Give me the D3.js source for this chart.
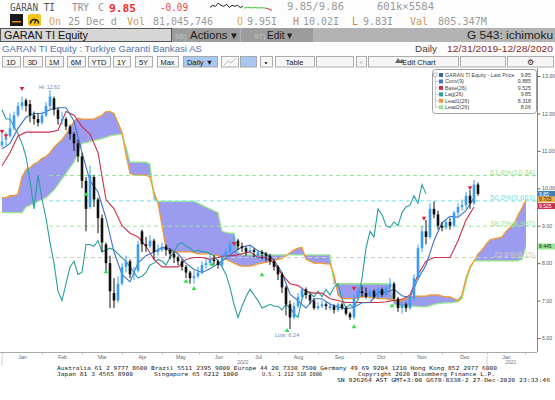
<!DOCTYPE html>
<html><head><meta charset="utf-8">
<script src="https://cdn.jsdelivr.net/npm/d3@7"></script>
<style>
html,body{margin:0;padding:0;background:#fff;overflow:hidden;}
svg{display:block;font-family:"Liberation Sans",Arial,sans-serif;}
</style></head><body>
<svg id="c" width="555" height="400"></svg>
<script>
// ---------------- DATA ----------------
// candles (one bar every 2 trading days, 31-Dec-2019 .. 28-Dec-2020)
const openP = [11.15,11.3,11.4,11.6,11.95,12.2,12.35,12.25,11.95,11.85,
11.75,11.95,12.2,12.4,12.1,11.8,11.85,11.65,11.45,11.2,
10.85,10.2,9.5,10.3,9.7,9.2,8.5,8.0,7.2,7.0,
7.45,7.9,8.05,7.7,7.8,8.85,8.5,8.45,8.6,8.3,
8.35,8.45,8.35,8.25,8.15,8.05,7.9,7.75,7.6,7.65,
7.75,7.95,8.0,8.1,8.05,7.95,8.15,8.3,8.5,8.6,
8.45,8.4,8.3,8.35,8.2,8.3,8.25,8.2,8.05,7.9,
7.7,7.35,6.9,6.55,6.85,7.1,7.3,7.15,7.0,6.8,
6.85,6.9,6.8,6.85,6.75,6.9,6.8,6.65,6.55,7.05,
7.25,7.2,7.1,7.25,7.1,7.3,7.15,7.35,7.45,7.05,
6.8,6.9,6.8,7.05,7.6,8.4,8.85,8.7,9.45,9.3,
9.0,8.95,9.1,9.0,9.35,9.5,9.55,9.8,9.6,10.1];
const highP = [11.45,11.5,12.0,12.05,12.3,12.45,12.4,12.36,12.05,12.0,
12.05,12.3,12.62,12.45,12.15,12.05,11.9,11.7,11.5,11.3,
10.95,10.3,10.6,10.35,9.75,9.3,8.55,8.2,7.6,7.65,
8.0,8.2,8.1,7.9,8.6,8.9,8.7,8.75,8.65,8.5,
8.55,8.5,8.4,8.3,8.2,8.1,7.95,7.8,7.8,7.9,
8.05,8.1,8.25,8.2,8.1,8.25,8.4,8.6,8.75,8.65,
8.55,8.45,8.45,8.4,8.35,8.35,8.3,8.25,8.1,7.95,
7.75,7.4,7.0,6.95,7.2,7.35,7.35,7.2,7.05,6.95,
7.0,6.95,6.95,6.9,6.95,6.95,6.85,6.7,7.15,7.35,
7.4,7.35,7.3,7.3,7.35,7.35,7.4,7.6,7.5,7.1,
6.95,6.95,7.1,7.7,8.5,9.0,9.15,9.6,9.65,9.4,
9.1,9.15,9.2,9.4,9.6,9.7,9.9,9.95,10.22,10.15];
const lowP = [11.1,11.15,11.35,11.55,11.9,12.1,12.05,11.76,11.7,11.65,
11.7,11.9,12.1,11.95,11.7,11.7,11.55,11.3,11.0,10.7,
10.0,8.85,9.45,9.5,8.8,8.3,7.8,6.8,6.8,6.95,
7.4,7.75,7.6,7.55,7.75,8.3,8.3,8.4,8.1,8.2,
8.3,8.2,8.1,8.0,7.95,7.8,7.6,7.45,7.45,7.6,
7.7,7.85,7.95,7.95,7.85,7.9,8.1,8.25,8.45,8.35,
8.3,8.2,8.25,8.15,8.1,8.1,8.05,7.95,7.8,7.55,
7.2,6.6,6.24,6.5,6.8,7.0,7.05,6.9,6.75,6.75,
6.8,6.75,6.75,6.65,6.7,6.75,6.6,6.48,6.5,7.0,
7.1,7.05,7.05,7.05,7.05,7.1,7.1,7.3,7.0,6.7,
6.65,6.7,6.75,7.0,7.55,8.3,8.5,8.65,9.2,8.9,
8.85,8.9,8.9,8.95,9.25,9.4,9.45,9.45,9.55,9.8];
const closeP = [11.25,11.35,11.6,11.95,12.2,12.3,12.2,11.95,11.85,11.75,
11.95,12.2,12.45,12.1,11.85,11.85,11.65,11.45,11.2,10.85,
10.2,9.45,10.35,9.7,9.2,8.55,8.0,7.25,7.0,7.45,
7.9,8.05,7.7,7.75,8.5,8.5,8.45,8.6,8.3,8.35,
8.4,8.35,8.25,8.15,8.05,7.9,7.75,7.6,7.65,7.75,
7.95,8.0,8.1,8.05,7.95,8.15,8.3,8.5,8.55,8.45,
8.4,8.3,8.35,8.3,8.3,8.25,8.2,8.05,7.9,7.7,
7.35,6.9,6.55,6.85,7.1,7.3,7.15,7.0,6.8,6.85,
6.9,6.85,6.85,6.75,6.9,6.8,6.65,6.55,7.05,7.25,
7.2,7.1,7.25,7.1,7.3,7.15,7.35,7.45,7.05,6.8,
6.9,6.8,7.05,7.6,8.4,8.85,8.7,9.45,9.3,9.0,
8.95,9.1,9.0,9.35,9.5,9.55,9.8,9.6,10.1,9.85];
// Conversion line (9) and Base line (26), one value every 2 bars
const convLine = [11.05,11.2,11.6,11.9,12.0,12.0,12.1,12.15,12.15,11.8,
10.95,10.2,9.9,9.2,8.3,7.7,7.5,8.0,8.2,8.3,
8.42,8.38,8.25,8.0,7.83,7.75,7.85,7.98,8.13,8.3,
8.43,8.48,8.33,8.25,8.08,7.75,7.17,7.0,6.8,7.05,
7.05,6.9,6.83,6.78,6.82,6.94,6.95,7.22,7.22,7.3,
7.13,7.08,7.58,7.95,8.6,9.08,9.25,9.23,9.4,9.75];
const baseLine = [10.6,10.95,11.4,11.5,11.5,11.5,11.5,11.55,12.05,11.95,
11.65,11.45,10.95,9.7,9.45,9.0,8.8,8.7,8.45,8.1,
7.9,7.9,7.9,8.1,8.15,8.15,8.1,8.15,8.2,8.2,
8.25,8.3,8.15,8.15,8.0,7.7,7.45,7.4,7.25,7.2,
7.2,7.05,7.0,6.95,6.95,6.95,6.95,6.95,6.97,7.0,
7.03,7.15,7.7,8.05,8.15,8.15,8.15,8.6,9.15,9.5];
// Leading spans (one value per bar, projected 26 days ahead)
const lead1 = [9.75,9.75,9.8,9.8,9.85,10.3,10.5,10.55,10.65,10.7,
10.8,10.85,10.95,11.1,11.2,11.3,11.45,11.6,11.8,11.88,
11.85,11.85,11.85,11.85,11.9,11.95,12.05,12.05,12.0,11.75,
11.5,10.9,10.4,10.35,10.35,10.35,10.35,10.3,9.9,9.6,
9.0,8.4,8.3,8.3,8.3,8.3,8.3,8.3,8.28,8.25,
8.25,8.25,8.25,8.22,8.2,8.15,8.1,8.05,8.0,7.95,
7.92,7.92,7.92,7.95,7.98,8.0,8.02,8.05,8.08,8.1,
8.12,8.2,8.28,8.35,8.4,8.42,8.1,8.05,8.0,8.0,
8.0,7.98,7.98,7.7,7.15,7.05,7.05,7.05,7.05,7.08,
7.1,7.1,7.1,7.08,7.05,7.05,7.05,7.02,7.0,6.98,
7.0,7.05,7.1,7.12,7.12,7.12,7.12,7.15,7.15,7.15,
7.12,7.1,7.1,7.05,7.0,7.15,7.6,7.9,8.05,8.25,
8.35,8.5,8.62,8.65,8.67,8.7,8.85,8.95,9.05,9.28,
9.47,9.7];
const lead2 = [9.35,9.35,9.35,9.35,9.35,9.35,9.5,9.55,9.6,9.65,
9.7,9.75,9.85,9.95,10.1,10.25,10.4,10.55,10.7,10.95,
11.2,11.22,11.25,11.28,11.3,11.33,11.36,11.4,11.42,11.44,
11.45,11.1,10.7,10.7,10.7,10.7,10.7,10.65,9.7,9.65,
9.65,9.65,9.65,9.65,9.65,9.65,9.65,9.65,9.65,9.6,
9.55,9.5,9.45,9.4,9.35,8.85,8.82,8.8,8.8,8.3,
8.22,8.22,8.22,8.22,8.22,8.22,8.22,8.22,8.22,8.22,
8.22,8.22,8.22,8.22,8.22,8.22,8.22,8.22,8.22,8.22,
8.22,8.22,8.22,7.45,7.45,7.45,7.45,7.45,7.45,7.45,
7.45,7.45,7.45,7.45,7.45,7.45,7.45,7.42,6.9,6.88,
6.86,6.85,6.85,6.85,6.84,6.83,6.83,6.86,6.9,6.92,
6.93,6.94,6.94,6.95,6.97,7.05,7.5,7.85,8.06,8.06,
8.06,8.06,8.06,8.06,8.06,8.06,8.06,8.06,8.06,8.06,
8.1,8.445];
const lagShift = 13; // 26 trading days = 13 bars
const monthStarts = [0,10,20,30,40,49.25,59,69,79,89.5,99.75,110,121.25,130.75];
const monthLabels = ["Jan","Feb","Mar","Apr","May","Jun","Jul","Aug","Sep","Oct","Nov","Dec","Jan"];
const yearLabels = ["2020","2021"];
const yearPos = [60.2, 127.2];
const yTicks = [6,7,8,9,10,11,12,13];
const fibLevels = [10.34, 9.663, 8.987, 8.15];
const fibLabels = ["61.8%(10.34)","50.0%(9.663)","38.2%(8.987)","23.6%(8.15)"];
const redMarkIdx = [0,1,5,58,88,105.5,117];
const redMarkPrice = [11.45,11.34,12.6,8.46,7.26,9.13,9.95];
const greenMarkIdx = [21,26,46,48,52.5,65,71.25,88,97.5];
const greenMarkPrice = [9.9,7.84,7.58,7.39,8.03,7.76,6.27,6.37,6.93];
const legendNames = ["GARAN TI Equity - Last Price","Conv(9)","Base(26)","Lag(26)","Lead1(26)","Lead2(26)"];
const legendValues = ["9.85","9.885","9.525","9.85","8.318","8.06"];
const rightTagVals = [9.85, 9.705, 9.525, 8.445];
const sparkA = [5,3,4,1,3,4,2,5,3,4,3,5,4];
const sparkB = [5.5,5,5.3,5.1,5.4,5.2,5.6];
const sparkC = [5.6,6.5,7.6];

// ---------------- STYLES ----------------
const C = {up:"#3b9bf2",down:"#111111",conv:"#3f72c8",base:"#c9324c",lag:"#2a9d9f",
  lead1:"#f39a2c",lead2:"#98ea88",kumo:"#9b9cf0"};
const fibColors = ["#8fe38f","#6fe3ec","#9ae69a","#cfcfbf"];
const legendColors = ["#3467ad",C.conv,C.base,C.lag,C.lead1,"#90e890"];
const tagFill = ["#3f7fb8","#f2b040","#c9324c","#98e898"];
const tagText = ["#fff","#222","#fff","#222"];

const svg = d3.select("#c");
const x = d3.scaleLinear().domain([0,119]).range([2,478]);
const y = d3.scaleLinear().domain([6,13]).range([338,76]);
const PT=68, PB=352, PR=537;

// ---------------- HEADER ----------------
const mono = '"DejaVu Sans Mono", monospace';
function t(g,xp,yp,s,o={}){
  const e=g.append("text").attr("x",xp).attr("y",yp).text(s)
   .attr("font-size",o.fs||10).attr("fill",o.fill||"#444")
   .attr("font-family",o.ff||null).attr("font-weight",o.fw||null);
  if(o.anchor) e.attr("text-anchor",o.anchor);
  if(o.tl) e.attr("textLength",o.tl).attr("lengthAdjust","spacingAndGlyphs");
  return e;
}
const hd = svg.append("g");
hd.append("rect").attr("width",555).attr("height",68).attr("fill","#fdfdfd");
// row 1
t(hd,10,11,"GARAN TI",{ff:mono,fill:"#555",tl:45});
t(hd,72,11,"TRY",{ff:mono,fill:"#8a8a8a",tl:17});
t(hd,98,11,"C",{ff:mono,fill:"#9a9a9a"});
t(hd,109,11.5,"9.85",{ff:mono,fill:"#ee2b2b",fw:"bold",fs:11,tl:27});
t(hd,160,11,"-0.09",{ff:mono,fill:"#ee4444",tl:28});
t(hd,287,10,"9.85/9.86",{ff:mono,fill:"#999",tl:57});
t(hd,377,10,"601k×5584",{ff:mono,fill:"#999",tl:57});
// sparkline
const sx1 = d3.scaleLinear().domain([0,sparkA.length-1]).range([210,243]);
const sx2 = d3.scaleLinear().domain([0,sparkB.length-1]).range([244,266]);
const sx3 = d3.scaleLinear().domain([0,sparkC.length-1]).range([266,272]);
const sy = d3.scaleLinear().domain([0,10]).range([2,13]);
hd.append("path").attr("d",d3.line().x((d,i)=>sx1(i)).y(d=>sy(d))(sparkA)).attr("fill","none").attr("stroke","#222").attr("stroke-width",1);
hd.append("path").attr("d",d3.line().x((d,i)=>sx2(i)).y(d=>sy(d))(sparkB)).attr("fill","none").attr("stroke","#33cc33").attr("stroke-width",1);
hd.append("path").attr("d",d3.line().x((d,i)=>sx3(i)).y(d=>sy(d))(sparkC)).attr("fill","none").attr("stroke","#e03030").attr("stroke-width",1);
// row 2
hd.append("rect").attr("x",10).attr("y",14).attr("width",13).attr("height",12).attr("fill","#1a1a1a");
hd.append("rect").attr("x",12).attr("y",21).attr("width",9).attr("height",1.5).attr("fill","#e08a20");
hd.append("rect").attr("x",28).attr("y",14).attr("width",13).attr("height",12).attr("rx",2).attr("fill","#f0c419");
hd.append("path").attr("d","M30.5,23.5 A4,4 0 0 1 38.5,23.5").attr("fill","none").attr("stroke","#222").attr("stroke-width",1.6);
hd.append("line").attr("x1",34.5).attr("y1",23.5).attr("x2",36).attr("y2",19.5).attr("stroke","#222").attr("stroke-width",1.2);
const r2=25;
t(hd,49,r2,"On",{ff:mono,fill:"#e6a44a"});
t(hd,68,r2,"25 Dec d",{ff:mono,fill:"#9a9a9a",tl:49});
t(hd,127,r2,"Vol",{ff:mono,fill:"#c99a5a"});
t(hd,153,r2,"81,045,746",{ff:mono,fill:"#9a9a9a",tl:60});
t(hd,237,r2,"O",{ff:mono,fill:"#e6a44a"});
t(hd,247,r2,"9.95I",{ff:mono,fill:"#9a9a9a",tl:30});
t(hd,293,r2,"H",{ff:mono,fill:"#c98a3a"});
t(hd,303,r2,"10.02I",{ff:mono,fill:"#9a9a9a",tl:36});
t(hd,352,r2,"L",{ff:mono,fill:"#c98a3a"});
t(hd,363,r2,"9.83I",{ff:mono,fill:"#9a9a9a",tl:30});
t(hd,410,r2,"Val",{ff:mono,fill:"#c99a5a"});
t(hd,438,r2,"805.347M",{ff:mono,fill:"#9a9a9a",tl:49});
// row 3 bar
hd.append("rect").attr("x",0).attr("y",28).attr("width",555).attr("height",14).attr("fill","#b3b3b3");
hd.append("rect").attr("x",0.5).attr("y",28.5).attr("width",171).attr("height",13).attr("fill","#d6d6d6").attr("stroke","#555");
t(hd,4,39,"GARAN TI Equity",{fs:11.5,fill:"#111",tl:84});
hd.append("rect").attr("x",172).attr("y",28).attr("width",68).attr("height",14).attr("fill","#9c9c9c");
hd.append("rect").attr("x",241).attr("y",28).attr("width",72).attr("height",14).attr("fill","#9c9c9c");
t(hd,175,38.5,"96)",{fs:8,fill:"#c4c4c4"});
t(hd,190,39,"Actions ▾",{fs:11,fill:"#1d1d1d",tl:47});
t(hd,254,38.5,"97)",{fs:8,fill:"#c4c4c4"});
t(hd,267,39,"Edit ▾",{fs:11,fill:"#1d1d1d",tl:26});
t(hd,553,39,"G 543: ichimoku",{fs:11,fill:"#1d1d1d",anchor:"end",tl:86});
// row 4
t(hd,2,52,"GARAN TI Equity : Turkiye Garanti Bankasi AS",{fs:9,fill:"#5775aa",tl:200});
t(hd,415,52,"Daily",{fs:9.5,fill:"#444",tl:22});
t(hd,553,52,"12/31/2019-12/28/2020",{fs:9.5,fill:"#8a2c1e",anchor:"end",tl:106});
// row 5 toolbar
const btns = [["1D",2,20],["3D",23,42],["1M",45,63],["6M",67,85],["YTD",88,110],["1Y",113,130],["5Y",135,152],["Max",157,178],["Daily ▼",183,217],["",221,238],["",240,256],["▪",260,272],["Table",275,314],["",316,353],["«",356,366],["Edit Chart",368,458],["",460,505],["⚙",507,553]];
btns.forEach(b=>{
  const blue = b[0]==="Daily ▼"||b[1]===240;
  hd.append("rect").attr("x",b[1]+0.5).attr("y",56.5).attr("width",b[2]-b[1]).attr("height",10.5)
    .attr("fill",blue?"#a9c8f0":"#f6f6f6").attr("stroke","#9a9a9a").attr("stroke-width",0.8);
  if(b[0]) t(hd,(b[1]+b[2])/2+(b[0]==="Edit Chart"?6:0),65,b[0],{fs:7.5,fill:b[0]==="«"?"#bbb":"#222",anchor:"middle"});
});
hd.append("path").attr("d","M395,63 l3,-5 l2,3 l2,-2 l3,4 z").attr("fill","#666");
hd.append("path").attr("d","M224,65 l4,-4 l3,2 l5,-5").attr("fill","none").attr("stroke","#bbb");

// ---------------- PLOT ----------------
svg.append("defs").append("clipPath").attr("id","pc").append("rect").attr("x",0).attr("y",PT).attr("width",PR).attr("height",PB-PT);
const plot = svg.append("g").attr("clip-path","url(#pc)");

// cloud
const idxL = d3.range(lead1.length);
plot.append("path").datum(idxL)
  .attr("d",d3.area().x(i=>x(i)).y0(i=>y(lead2[i])).y1(i=>y(lead1[i])))
  .attr("fill",C.kumo);
plot.append("path").datum(lead2).attr("d",d3.line().x((d,i)=>x(i)).y(d=>y(d)))
  .attr("fill","none").attr("stroke",C.lead2).attr("stroke-width",1.3);
plot.append("path").datum(lead1).attr("d",d3.line().x((d,i)=>x(i)).y(d=>y(d)))
  .attr("fill","none").attr("stroke",C.lead1).attr("stroke-width",1.3);

// fibonacci levels
fibLevels.forEach((v,k)=>{
  plot.append("line").attr("x1",49).attr("x2",PR).attr("y1",y(v)).attr("y2",y(v))
   .attr("stroke",fibColors[k]).attr("stroke-width",1).attr("stroke-dasharray","4,3");
  svg.append("text").attr("x",535).attr("y",y(v)-0.5).attr("text-anchor","end")
   .attr("font-size",7.5).attr("fill",fibColors[k]).text(fibLabels[k]);
});

// lag, base, conv
plot.append("path").datum(closeP.slice(lagShift))
  .attr("d",d3.line().x((d,i)=>x(i)).y(d=>y(d)))
  .attr("fill","none").attr("stroke",C.lag).attr("stroke-width",1.1);
plot.append("path").datum(baseLine).attr("d",d3.line().x((d,i)=>x(i*2)).y(d=>y(d)))
  .attr("fill","none").attr("stroke",C.base).attr("stroke-width",1.1);
plot.append("path").datum(convLine).attr("d",d3.line().x((d,i)=>x(i*2)).y(d=>y(d)))
  .attr("fill","none").attr("stroke",C.conv).attr("stroke-width",1.1);

// candles
const candles = d3.range(closeP.length).map(i=>({i,o:openP[i],h:highP[i],l:lowP[i],c:closeP[i]}));
const cg = plot.append("g");
cg.selectAll("line").data(candles).join("line")
  .attr("x1",d=>x(d.i)).attr("x2",d=>x(d.i)).attr("y1",d=>y(d.h)).attr("y2",d=>y(d.l))
  .attr("stroke",d=>d.c>=d.o?C.up:C.down).attr("stroke-width",1);
cg.selectAll("rect").data(candles).join("rect")
  .attr("x",d=>x(d.i)-1.3).attr("width",2.6)
  .attr("y",d=>y(Math.max(d.o,d.c))).attr("height",d=>Math.max(1,Math.abs(y(d.o)-y(d.c))))
  .attr("fill",d=>d.c>=d.o?C.up:C.down);

// markers
const mg = plot.append("g");
mg.selectAll("path.r").data(redMarkIdx).join("path").attr("class","r")
  .attr("d",(d,k)=>{const px=x(d),py=y(redMarkPrice[k]);return `M${px-2.3},${py-4}L${px+2.3},${py-4}L${px},${py}Z`;})
  .attr("fill","#e8213a");
mg.selectAll("path.g").data(greenMarkIdx).join("path").attr("class","g")
  .attr("d",(d,k)=>{const px=x(d),py=y(greenMarkPrice[k]);return `M${px-2.3},${py+4}L${px+2.3},${py+4}L${px},${py}Z`;})
  .attr("fill","#2ee04a");
svg.append("text").attr("x",x(12)-11).attr("y",y(12.62)-1.5).attr("font-size",5.2).attr("fill","#6b8bbb").text("Hi: 12.62");
svg.append("text").attr("x",x(72)-15).attr("y",y(6.24)+8).attr("font-size",5.6).attr("fill","#6b8bbb").text("Low: 6.24");

// ---------------- AXES ----------------
const ax = svg.append("g");
ax.append("line").attr("x1",PR+0.5).attr("x2",PR+0.5).attr("y1",PT).attr("y2",PB).attr("stroke","#888");
ax.append("line").attr("x1",0).attr("x2",PR).attr("y1",PB+0.5).attr("y2",PB+0.5).attr("stroke","#aaa");
const yAx = ax.append("g").attr("transform",`translate(${PR+0.5},0)`)
  .call(d3.axisRight(y).tickValues(yTicks).tickSize(3).tickPadding(1.5).tickFormat(d3.format(".2f")));
yAx.select(".domain").remove();
yAx.selectAll("text").attr("font-size",5.2).attr("fill","#555").attr("font-family","Liberation Sans");
yAx.selectAll("line").attr("stroke","#666");

const xAx = ax.append("g").attr("transform",`translate(0,${PB+0.5})`)
  .call(d3.axisBottom(x).tickValues(monthStarts).tickSize(2).tickFormat(""));
xAx.select(".domain").remove();
xAx.selectAll("line").attr("stroke","#bbb");
const mids = monthLabels.map((m,k)=>(monthStarts[k]+monthStarts[k+1])/2);
const lAx = ax.append("g").attr("transform",`translate(0,${PB})`)
  .call(d3.axisBottom(x).tickValues(mids).tickSize(0).tickPadding(3).tickFormat((d,k)=>monthLabels[k]));
lAx.select(".domain").remove();
lAx.selectAll("text").attr("font-size",5.3).attr("fill","#666").attr("font-family","Liberation Sans");
[0,121.25].forEach(v=>ax.append("line").attr("x1",x(v)).attr("x2",x(v)).attr("y1",PB+4).attr("y2",PB+14).attr("stroke","#ccc"));
yearLabels.forEach((s,k)=>ax.append("text").attr("x",x(yearPos[k])).attr("y",364).attr("text-anchor","middle")
  .attr("font-size",5).attr("fill","#777").text(s));

// right value tags
rightTagVals.forEach((v,k)=>{
  const yy = y(v);
  ax.append("rect").attr("x",538).attr("y",yy-3).attr("width",17).attr("height",6).attr("fill",tagFill[k]);
  ax.append("text").attr("x",539).attr("y",yy+1.8).attr("font-size",5).attr("fill",tagText[k]).text(v===9.85?"9.85":String(v));
});

// ---------------- LEGEND ----------------
const lg = svg.append("g");
lg.append("rect").attr("x",432.5).attr("y",69.5).attr("width",104).attr("height",44).attr("rx",3)
  .attr("fill","#fff").attr("stroke","#a0a0a0");
lg.append("rect").attr("x",433.5).attr("y",73).attr("width",3.5).attr("height",3.5).attr("fill","none").attr("stroke","#999").attr("stroke-width",0.6);
lg.append("line").attr("x1",435.3).attr("x2",435.3).attr("y1",77).attr("y2",107.5).attr("stroke","#aaa").attr("stroke-width",0.6);
legendNames.forEach((n,k)=>{
  const cy = 75 + k*6.45;
  if(k>0) lg.append("line").attr("x1",435.3).attr("x2",439).attr("y1",cy).attr("y2",cy).attr("stroke","#aaa").attr("stroke-width",0.6);
  lg.append("rect").attr("x",439).attr("y",cy-2).attr("width",4).attr("height",4).attr("fill",legendColors[k]);
  lg.append("text").attr("x",445).attr("y",cy+1.9).attr("font-size",5.3).attr("fill","#444").text(n);
  lg.append("text").attr("x",531).attr("y",cy+1.9).attr("font-size",5.3).attr("fill","#444").attr("text-anchor","end").text(legendValues[k]);
});

// ---------------- FOOTER ----------------
const ft = svg.append("g").attr("font-family",mono).attr("fill","#1a1a1a").attr("font-size",5.4);
function ftxt(xp,yp,s,w){ft.append("text").attr("x",xp).attr("y",yp).text(s).attr("textLength",w).attr("lengthAdjust","spacingAndGlyphs");}
ftxt(57,370,"Australia 61 2 9777 8600 Brazil 5511 2395 9000 Europe 44 20 7330 7500 Germany 49 69 9204 1210 Hong Kong 852 2977 6000",440);
ftxt(57,376,"Japan 81 3 4565 8900",76);
ftxt(154,376,"Singapore 65 6212 1000",84);
ftxt(262,376,"U.S. 1 212 318 2000",60);
ftxt(358,376,"Copyright 2020 Bloomberg Finance L.P.",137);
ftxt(337,382,"SN 926264 AST  GMT+3:00 G678-8338-2 27-Dec-2020 23:33:46",213);
</script>
</body></html>
